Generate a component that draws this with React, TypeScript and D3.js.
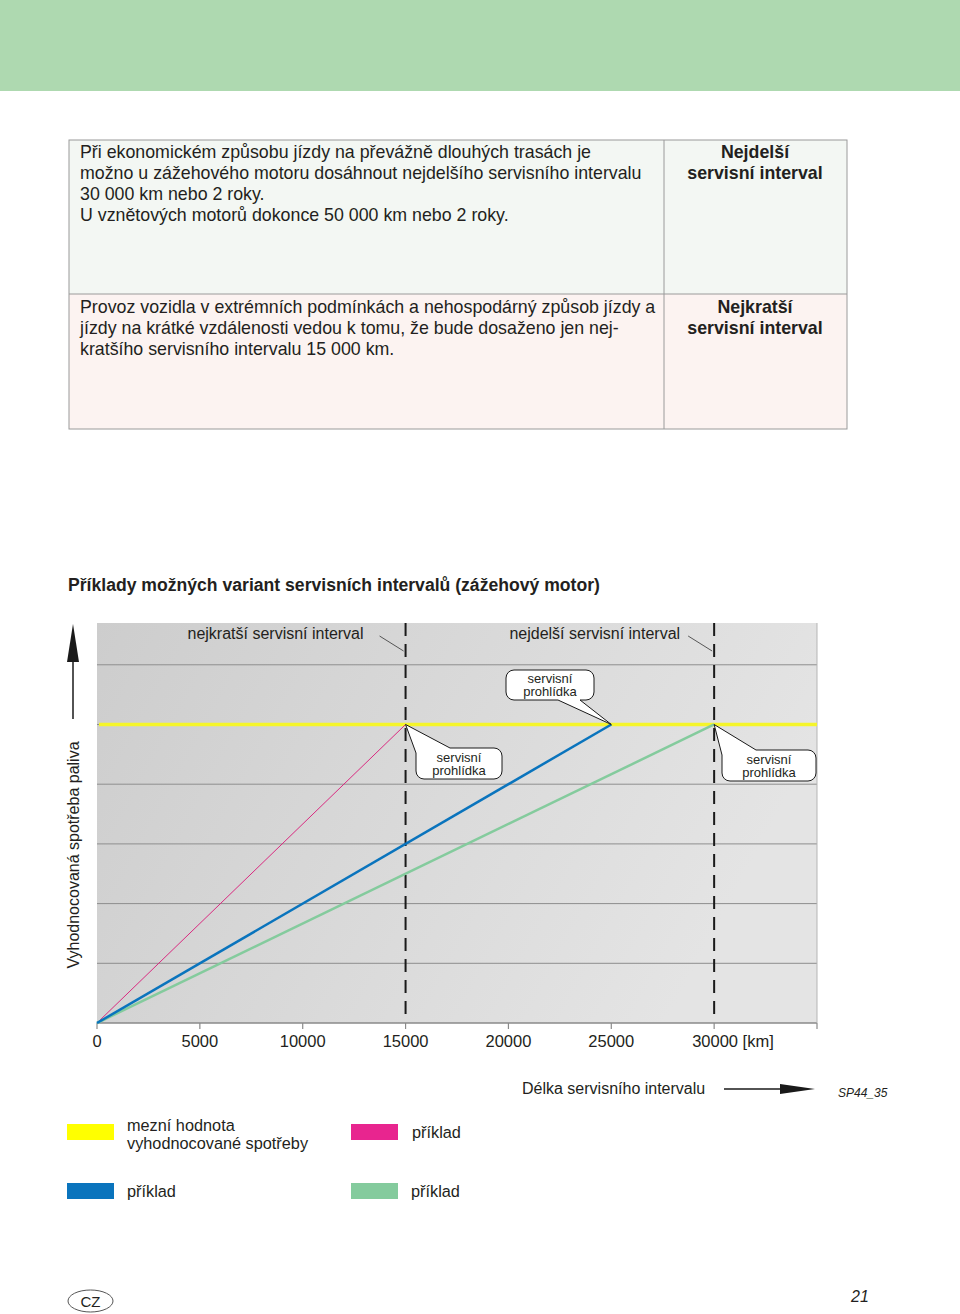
import React from "react";
import * as d3 from "d3";

// ---------- data ----------
const xTickValues = [0, 5000, 10000, 15000, 20000, 25000, 30000];
const xTickLabels = ["0", "5000", "10000", "15000", "20000", "25000", "30000 [km]"];
const xMax = 35000;
const yMax = 6.7;
const gridValues = [1, 2, 3, 4, 5, 6];
const limitValue = 5;
const intervalMarks = [15000, 30000];
const intervalLabels = ["nejkratší servisní interval", "nejdelší servisní interval"];

const magentaSeries: [number, number][] = [[0, 0], [15000, 5]];
const blueSeries: [number, number][] = [[0, 0], [25000, 5]];
const greenSeries: [number, number][] = [[0, 0], [30000, 5]];

const calloutPoints = [15000, 25000, 30000];
const calloutText = ["servisní", "prohlídka"];

const legendLabels = [["mezní hodnota", "vyhodnocované spotřeby"], ["příklad"], ["příklad"], ["příklad"]];

const row1Text = [
  "Při ekonomickém způsobu jízdy na převážně dlouhých trasách je",
  "možno u zážehového motoru dosáhnout nejdelšího servisního intervalu",
  "30 000 km nebo 2 roky.",
  "U vznětových motorů dokonce 50 000 km nebo 2 roky.",
];
const row1Head = ["Nejdelší", "servisní interval"];
const row2Text = [
  "Provoz vozidla v extrémních podmínkách a nehospodárný způsob jízdy a",
  "jízdy na krátké vzdálenosti vedou k tomu, že bude dosaženo jen nej-",
  "kratšího servisního intervalu 15 000 km.",
];
const row2Head = ["Nejkratší", "servisní interval"];

// ---------- styles ----------
const FONT = "'Liberation Sans', Arial, Helvetica, sans-serif";
const C = {
  band: "#aed9b0",
  yellow: "#f5f52a",
  magenta: "#d9297f",
  magentaLegend: "#e8258f",
  blue: "#0a74bd",
  green: "#84cb9d",
  grid: "#8e8e8e",
};
const labelGap = [42, 34];

export default function App() {
  const plot = { left: 97, right: 817, top: 623, bottom: 1023 };
  const x = d3.scaleLinear().domain([0, xMax]).range([plot.left, plot.right]);
  const y = d3.scaleLinear().domain([0, yMax]).range([plot.bottom, plot.top]);
  const line = d3
    .line<[number, number]>()
    .x((d) => x(d[0]))
    .y((d) => y(d[1]));

  const yl = y(limitValue);

  // callout shapes
  const callout = (i: number) => {
    const tx = x(calloutPoints[i]);
    const ty = yl;
    const r = 8;
    if (i === 1) {
      const x0 = 506, x1 = 594, y0 = 670, y1 = 700;
      const p = `M${tx},${ty} L${x1 - 36},${y1} H${x0 + r} A${r},${r} 0 0 1 ${x0},${y1 - r} V${y0 + r} A${r},${r} 0 0 1 ${x0 + r},${y0} H${x1 - r} A${r},${r} 0 0 1 ${x1},${y0 + r} V${y1 - r} A${r},${r} 0 0 1 ${x1 - r},${y1} L${x1 - 14},${y1} Z`;
      return { p, cx: (x0 + x1) / 2, cy: (y0 + y1) / 2 };
    }
    const x0 = i === 0 ? 416 : 722;
    const x1 = i === 0 ? 502 : 816;
    const y0 = i === 0 ? 748 : 750;
    const y1 = y0 + 31;
    const p = `M${tx},${ty} L${x0 + 34},${y0} H${x1 - r} A${r},${r} 0 0 1 ${x1},${y0 + r} V${y1 - r} A${r},${r} 0 0 1 ${x1 - r},${y1} H${x0 + r} A${r},${r} 0 0 1 ${x0},${y1 - r} V${y0 + 5} Z`;
    return { p, cx: (x0 + x1) / 2, cy: (y0 + y1) / 2 };
  };

  return (
    <svg
      width={960}
      height={1314}
      style={{ position: "absolute", left: 0, top: 0, background: "#fff" }}
      fontFamily={FONT}
    >
      <defs>
        <linearGradient id="bg" x1="0" y1="0" x2="1" y2="0.3">
          <stop offset="0" stopColor="#cdcdcd" />
          <stop offset="0.6" stopColor="#dbdbdb" />
          <stop offset="1" stopColor="#e4e4e4" />
        </linearGradient>
      </defs>

      {/* top band */}
      <rect x={0} y={0} width={960} height={91} fill={C.band} />

      {/* table */}
      <rect x={69} y={140} width={778} height={154} fill="#f3f7f3" />
      <rect x={69} y={294} width={778} height={135} fill="#fcf3f1" />
      <rect x={69} y={140} width={778} height={289} fill="none" stroke="#9a9a9a" strokeWidth={1} />
      <line x1={664} x2={664} y1={140} y2={429} stroke="#9a9a9a" />
      <line x1={69} x2={847} y1={294} y2={294} stroke="#9a9a9a" />
      <g fontSize={17.8} fill="#231f20">
        {row1Text.map((t, i) => (
          <text key={"r1" + i} x={80} y={158 + i * 21}>{t}</text>
        ))}
        {row2Text.map((t, i) => (
          <text key={"r2" + i} x={80} y={313 + i * 21}>{t}</text>
        ))}
        {row1Head.map((t, i) => (
          <text key={"h1" + i} x={755} y={158 + i * 21} textAnchor="middle" fontWeight="bold">{t}</text>
        ))}
        {row2Head.map((t, i) => (
          <text key={"h2" + i} x={755} y={313 + i * 21} textAnchor="middle" fontWeight="bold">{t}</text>
        ))}
      </g>

      {/* chart title */}
      <text x={68} y={591} fontSize={17.6} fontWeight="bold" fill="#231f20">
        Příklady možných variant servisních intervalů (zážehový motor)
      </text>

      {/* plot background */}
      <rect
        x={plot.left}
        y={plot.top}
        width={plot.right - plot.left}
        height={plot.bottom - plot.top}
        fill="url(#bg)"
      />
      {gridValues.map((v) => (
        <line key={v} x1={plot.left} x2={plot.right} y1={y(v)} y2={y(v)} stroke={C.grid} strokeWidth={1} />
      ))}
      {/* x axis */}
      <line x1={plot.left} x2={plot.right} y1={plot.bottom} y2={plot.bottom} stroke="#8a8a8a" strokeWidth={1.5} />
      {[...xTickValues, xMax].map((v) => (
        <line key={"t" + v} x1={x(v)} x2={x(v)} y1={plot.bottom} y2={plot.bottom + 6} stroke="#8a8a8a" strokeWidth={1.2} />
      ))}
      <line x1={plot.right} x2={plot.right} y1={plot.top} y2={plot.bottom} stroke="#b5b5b5" strokeWidth={1} />
      <g fontSize={16.5} fill="#231f20">
        {xTickValues.map((v, i) => (
          <text key={"l" + v} x={x(v)} y={1047} textAnchor={i === xTickValues.length - 1 ? "start" : "middle"} dx={i === xTickValues.length - 1 ? -22 : 0}>
            {xTickLabels[i]}
          </text>
        ))}
      </g>

      {/* limit line */}
      <line x1={plot.left + 2} x2={plot.right} y1={yl} y2={yl} stroke={C.yellow} strokeWidth={3.5} />

      {/* interval dashed lines */}
      {intervalMarks.map((v) => (
        <line key={"d" + v} x1={x(v)} x2={x(v)} y1={plot.top} y2={plot.bottom - 8} stroke="#1a1a1a" strokeWidth={2} strokeDasharray="13 8" />
      ))}

      {/* series */}
      <path d={line(magentaSeries) || ""} fill="none" stroke={C.magenta} strokeWidth={1} />
      <path d={line(greenSeries) || ""} fill="none" stroke={C.green} strokeWidth={2.5} />
      <path d={line(blueSeries) || ""} fill="none" stroke={C.blue} strokeWidth={2.5} />

      {/* interval labels */}
      {intervalMarks.map((v, i) => (
        <g key={"il" + v}>
          <text x={x(v) - labelGap[i]} y={639} fontSize={16} textAnchor="end" fill="#231f20">{intervalLabels[i]}</text>
          <line x1={x(v) - 26} x2={x(v) - 2} y1={636} y2={651} stroke="#333" strokeWidth={0.8} />
        </g>
      ))}

      {/* callouts */}
      {calloutPoints.map((_, i) => {
        const c = callout(i);
        return (
          <g key={"c" + i}>
            <path d={c.p} fill="#fff" stroke="#1a1a1a" strokeWidth={1} />
            <text x={c.cx} y={c.cy - 2} fontSize={13} textAnchor="middle" fill="#231f20">{calloutText[0]}</text>
            <text x={c.cx} y={c.cy + 11} fontSize={13} textAnchor="middle" fill="#231f20">{calloutText[1]}</text>
          </g>
        );
      })}

      {/* y axis label + arrow */}
      <text
        transform="translate(79,855) rotate(-90)"
        fontSize={16}
        textAnchor="middle"
        fill="#231f20"
      >
        Vyhodnocovaná spotřeba paliva
      </text>
      <line x1={73} x2={73} y1={719} y2={655} stroke="#1a1a1a" strokeWidth={1.5} />
      <path d="M73,624 L79,662 L67,662 Z" fill="#1a1a1a" />

      {/* x axis title + arrow */}
      <text x={522} y={1094} fontSize={16} fill="#231f20">Délka servisního intervalu</text>
      <line x1={724} x2={785} y1={1089} y2={1089} stroke="#1a1a1a" strokeWidth={1.5} />
      <path d="M815,1089 L780,1084 L780,1094 Z" fill="#1a1a1a" />
      <text x={838} y={1097} fontSize={12} fontStyle="italic" fill="#231f20">SP44_35</text>

      {/* legend */}
      <rect x={67} y={1124} width={47} height={16} fill="#ffff00" />
      <rect x={351} y={1124} width={47} height={16} fill={C.magentaLegend} />
      <rect x={67} y={1183} width={47} height={16} fill={C.blue} />
      <rect x={351} y={1183} width={47} height={16} fill={C.green} />
      <g fontSize={16.3} fill="#231f20">
        <text x={127} y={1131}>{legendLabels[0][0]}</text>
        <text x={127} y={1149}>{legendLabels[0][1]}</text>
        <text x={412} y={1138}>{legendLabels[1][0]}</text>
        <text x={127} y={1197}>{legendLabels[2][0]}</text>
        <text x={411} y={1197}>{legendLabels[3][0]}</text>
      </g>

      {/* footer */}
      <ellipse cx={90.5} cy={1301} rx={22.5} ry={11} fill="none" stroke="#555" strokeWidth={1} />
      <text x={90.5} y={1307} fontSize={15} textAnchor="middle" fill="#231f20">CZ</text>
      <text x={851} y={1302} fontSize={16} fontStyle="italic" fill="#231f20">21</text>
    </svg>
  );
}
